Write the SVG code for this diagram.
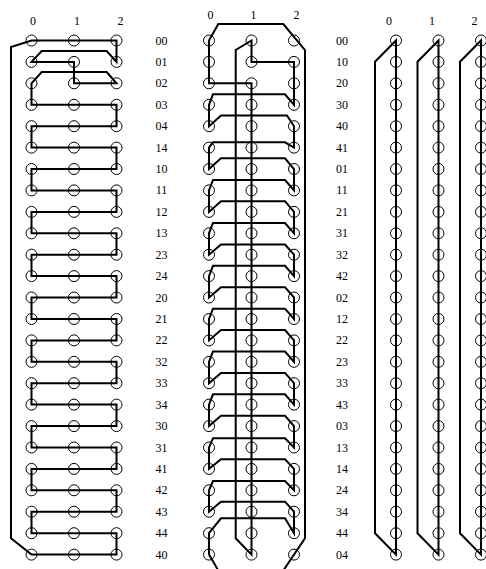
<svg xmlns="http://www.w3.org/2000/svg" width="486" height="569" viewBox="0 0 486 569">
<style>
.n circle{fill:none;stroke:#000;stroke-width:1}
.c path{fill:none;stroke:#000;stroke-width:2;stroke-linejoin:miter}
text{font-family:"Liberation Serif","Times New Roman",serif;font-size:12px;fill:#000;text-anchor:middle}
</style>
<rect width="486" height="569" fill="#fff"/>
<g id="connectors" class="c">
<path id="cycle-left" d="M31.5,40.5 H116.5 V61.9 L106.7,51 H41.7 L31.5,61.9 H74 V83.3 H116.5 L106.7,72 H41.7 L31.5,83.3 V104.8 H116.5 V126.2 H31.5 V147.6 H116.5 V169 H31.5 V190.4 H116.5 V211.9 H31.5 V233.3 H116.5 V254.7 H31.5 V276.1 H116.5 V297.5 H31.5 V319 H116.5 V340.4 H31.5 V361.8 H116.5 V383.2 H31.5 V404.6 H116.5 V426.1 H31.5 V447.5 H116.5 V468.9 H31.5 V490.3 H116.5 V511.7 H31.5 V533.2 H116.5 V554.6 H31.5 L11,538.3 V47 Z"/>
<path id="cycle-middle" d="M283,571 L305,538.3 V50 L283.3,24 H218.3 L209,40.5 V83.3 H251.5 V554.6 L235.7,538.3 V50 L251.5,40.5 V61.9 H294 V104.8
L285,94.3 H213 L209,104.8 V126.2
L221,115.5 H287 L294,126.2 V147.6
L285,142.3 H213 L209,147.6 V169
L221,158.3 H285 L294,169 V190.4
L285,180 H213 L209,190.4 V211.9
L221,201.2 H285 L294,211.9 V233.3
L285,223 H213 L209,233.3 V254.7
L221,244.5 H285 L294,254.7 V276.1
L285,265.8 H213 L209,276.1 V297.5
L221,287.2 H285 L294,297.5 V319
L285,308.7 H213 L209,319 V340.4
L221,330 H285 L294,340.4 V361.8
L285,351.5 H213 L209,361.8 V383.2
L221,372.9 H285 L294,383.2 V404.6
L285,394.3 H213 L209,404.6 V426.1
L221,415.8 H285 L294,426.1 V447.5
L285,438.3 H213 L209,447.5 V468.9
L221,459.3 H285 L294,468.9 V490.3
L285,481 H213 L209,490.3 V511.7
L221,501.7 H285 L294,511.7 V533.2
L285,518.3 H221 L209,533.2 V554.6 L218.6,571"/>
<path id="cycle-right-0" d="M396,40.5 V554.6 L375,533.3 V61.7 Z"/>
<path id="cycle-right-1" d="M438.5,40.5 V554.6 L417.5,533.3 V61.7 Z"/>
<path id="cycle-right-2" d="M481,40.5 V554.6 L460,533.3 V61.7 Z"/>
</g>
<g id="column-labels">
<text x="33" y="24.5">0</text><text x="77" y="24.5">1</text><text x="120.5" y="24.5">2</text>
<text x="210.5" y="19">0</text><text x="253.5" y="19">1</text><text x="296.5" y="19">2</text>
<text x="389" y="24.5">0</text><text x="432" y="24.5">1</text><text x="474.5" y="24.5">2</text>
</g>
<g id="row-labels-left">
<text x="161.5" y="44.5">00</text><text x="161.5" y="65.9">01</text><text x="161.5" y="87.3">02</text><text x="161.5" y="108.8">03</text><text x="161.5" y="130.2">04</text><text x="161.5" y="151.6">14</text><text x="161.5" y="173">10</text><text x="161.5" y="194.4">11</text><text x="161.5" y="215.9">12</text><text x="161.5" y="237.3">13</text><text x="161.5" y="258.7">23</text><text x="161.5" y="280.1">24</text><text x="161.5" y="301.5">20</text><text x="161.5" y="323">21</text><text x="161.5" y="344.4">22</text><text x="161.5" y="365.8">32</text><text x="161.5" y="387.2">33</text><text x="161.5" y="408.6">34</text><text x="161.5" y="430.1">30</text><text x="161.5" y="451.5">31</text><text x="161.5" y="472.9">41</text><text x="161.5" y="494.3">42</text><text x="161.5" y="515.7">43</text><text x="161.5" y="537.2">44</text><text x="161.5" y="558.6">40</text>
</g>
<g id="row-labels-right">
<text x="342" y="44.5">00</text><text x="342" y="65.9">10</text><text x="342" y="87.3">20</text><text x="342" y="108.8">30</text><text x="342" y="130.2">40</text><text x="342" y="151.6">41</text><text x="342" y="173">01</text><text x="342" y="194.4">11</text><text x="342" y="215.9">21</text><text x="342" y="237.3">31</text><text x="342" y="258.7">32</text><text x="342" y="280.1">42</text><text x="342" y="301.5">02</text><text x="342" y="323">12</text><text x="342" y="344.4">22</text><text x="342" y="365.8">23</text><text x="342" y="387.2">33</text><text x="342" y="408.6">43</text><text x="342" y="430.1">03</text><text x="342" y="451.5">13</text><text x="342" y="472.9">14</text><text x="342" y="494.3">24</text><text x="342" y="515.7">34</text><text x="342" y="537.2">44</text><text x="342" y="558.6">04</text>
</g>
<g id="nodes" class="n">
<g id="L-00"><circle cx="31.5" cy="40.5" r="5.5"/><circle cx="74" cy="40.5" r="5.5"/><circle cx="116.5" cy="40.5" r="5.5"/></g>
<g id="L-01"><circle cx="31.5" cy="61.9" r="5.5"/><circle cx="74" cy="61.9" r="5.5"/><circle cx="116.5" cy="61.9" r="5.5"/></g>
<g id="L-02"><circle cx="31.5" cy="83.3" r="5.5"/><circle cx="74" cy="83.3" r="5.5"/><circle cx="116.5" cy="83.3" r="5.5"/></g>
<g id="L-03"><circle cx="31.5" cy="104.8" r="5.5"/><circle cx="74" cy="104.8" r="5.5"/><circle cx="116.5" cy="104.8" r="5.5"/></g>
<g id="L-04"><circle cx="31.5" cy="126.2" r="5.5"/><circle cx="74" cy="126.2" r="5.5"/><circle cx="116.5" cy="126.2" r="5.5"/></g>
<g id="L-14"><circle cx="31.5" cy="147.6" r="5.5"/><circle cx="74" cy="147.6" r="5.5"/><circle cx="116.5" cy="147.6" r="5.5"/></g>
<g id="L-10"><circle cx="31.5" cy="169" r="5.5"/><circle cx="74" cy="169" r="5.5"/><circle cx="116.5" cy="169" r="5.5"/></g>
<g id="L-11"><circle cx="31.5" cy="190.4" r="5.5"/><circle cx="74" cy="190.4" r="5.5"/><circle cx="116.5" cy="190.4" r="5.5"/></g>
<g id="L-12"><circle cx="31.5" cy="211.9" r="5.5"/><circle cx="74" cy="211.9" r="5.5"/><circle cx="116.5" cy="211.9" r="5.5"/></g>
<g id="L-13"><circle cx="31.5" cy="233.3" r="5.5"/><circle cx="74" cy="233.3" r="5.5"/><circle cx="116.5" cy="233.3" r="5.5"/></g>
<g id="L-23"><circle cx="31.5" cy="254.7" r="5.5"/><circle cx="74" cy="254.7" r="5.5"/><circle cx="116.5" cy="254.7" r="5.5"/></g>
<g id="L-24"><circle cx="31.5" cy="276.1" r="5.5"/><circle cx="74" cy="276.1" r="5.5"/><circle cx="116.5" cy="276.1" r="5.5"/></g>
<g id="L-20"><circle cx="31.5" cy="297.5" r="5.5"/><circle cx="74" cy="297.5" r="5.5"/><circle cx="116.5" cy="297.5" r="5.5"/></g>
<g id="L-21"><circle cx="31.5" cy="319" r="5.5"/><circle cx="74" cy="319" r="5.5"/><circle cx="116.5" cy="319" r="5.5"/></g>
<g id="L-22"><circle cx="31.5" cy="340.4" r="5.5"/><circle cx="74" cy="340.4" r="5.5"/><circle cx="116.5" cy="340.4" r="5.5"/></g>
<g id="L-32"><circle cx="31.5" cy="361.8" r="5.5"/><circle cx="74" cy="361.8" r="5.5"/><circle cx="116.5" cy="361.8" r="5.5"/></g>
<g id="L-33"><circle cx="31.5" cy="383.2" r="5.5"/><circle cx="74" cy="383.2" r="5.5"/><circle cx="116.5" cy="383.2" r="5.5"/></g>
<g id="L-34"><circle cx="31.5" cy="404.6" r="5.5"/><circle cx="74" cy="404.6" r="5.5"/><circle cx="116.5" cy="404.6" r="5.5"/></g>
<g id="L-30"><circle cx="31.5" cy="426.1" r="5.5"/><circle cx="74" cy="426.1" r="5.5"/><circle cx="116.5" cy="426.1" r="5.5"/></g>
<g id="L-31"><circle cx="31.5" cy="447.5" r="5.5"/><circle cx="74" cy="447.5" r="5.5"/><circle cx="116.5" cy="447.5" r="5.5"/></g>
<g id="L-41"><circle cx="31.5" cy="468.9" r="5.5"/><circle cx="74" cy="468.9" r="5.5"/><circle cx="116.5" cy="468.9" r="5.5"/></g>
<g id="L-42"><circle cx="31.5" cy="490.3" r="5.5"/><circle cx="74" cy="490.3" r="5.5"/><circle cx="116.5" cy="490.3" r="5.5"/></g>
<g id="L-43"><circle cx="31.5" cy="511.7" r="5.5"/><circle cx="74" cy="511.7" r="5.5"/><circle cx="116.5" cy="511.7" r="5.5"/></g>
<g id="L-44"><circle cx="31.5" cy="533.2" r="5.5"/><circle cx="74" cy="533.2" r="5.5"/><circle cx="116.5" cy="533.2" r="5.5"/></g>
<g id="L-40"><circle cx="31.5" cy="554.6" r="5.5"/><circle cx="74" cy="554.6" r="5.5"/><circle cx="116.5" cy="554.6" r="5.5"/></g>

<g id="M-00"><circle cx="209" cy="40.5" r="5.5"/><circle cx="251.5" cy="40.5" r="5.5"/><circle cx="294" cy="40.5" r="5.5"/></g>
<g id="M-01"><circle cx="209" cy="61.9" r="5.5"/><circle cx="251.5" cy="61.9" r="5.5"/><circle cx="294" cy="61.9" r="5.5"/></g>
<g id="M-02"><circle cx="209" cy="83.3" r="5.5"/><circle cx="251.5" cy="83.3" r="5.5"/><circle cx="294" cy="83.3" r="5.5"/></g>
<g id="M-03"><circle cx="209" cy="104.8" r="5.5"/><circle cx="251.5" cy="104.8" r="5.5"/><circle cx="294" cy="104.8" r="5.5"/></g>
<g id="M-04"><circle cx="209" cy="126.2" r="5.5"/><circle cx="251.5" cy="126.2" r="5.5"/><circle cx="294" cy="126.2" r="5.5"/></g>
<g id="M-14"><circle cx="209" cy="147.6" r="5.5"/><circle cx="251.5" cy="147.6" r="5.5"/><circle cx="294" cy="147.6" r="5.5"/></g>
<g id="M-10"><circle cx="209" cy="169" r="5.5"/><circle cx="251.5" cy="169" r="5.5"/><circle cx="294" cy="169" r="5.5"/></g>
<g id="M-11"><circle cx="209" cy="190.4" r="5.5"/><circle cx="251.5" cy="190.4" r="5.5"/><circle cx="294" cy="190.4" r="5.5"/></g>
<g id="M-12"><circle cx="209" cy="211.9" r="5.5"/><circle cx="251.5" cy="211.9" r="5.5"/><circle cx="294" cy="211.9" r="5.5"/></g>
<g id="M-13"><circle cx="209" cy="233.3" r="5.5"/><circle cx="251.5" cy="233.3" r="5.5"/><circle cx="294" cy="233.3" r="5.5"/></g>
<g id="M-23"><circle cx="209" cy="254.7" r="5.5"/><circle cx="251.5" cy="254.7" r="5.5"/><circle cx="294" cy="254.7" r="5.5"/></g>
<g id="M-24"><circle cx="209" cy="276.1" r="5.5"/><circle cx="251.5" cy="276.1" r="5.5"/><circle cx="294" cy="276.1" r="5.5"/></g>
<g id="M-20"><circle cx="209" cy="297.5" r="5.5"/><circle cx="251.5" cy="297.5" r="5.5"/><circle cx="294" cy="297.5" r="5.5"/></g>
<g id="M-21"><circle cx="209" cy="319" r="5.5"/><circle cx="251.5" cy="319" r="5.5"/><circle cx="294" cy="319" r="5.5"/></g>
<g id="M-22"><circle cx="209" cy="340.4" r="5.5"/><circle cx="251.5" cy="340.4" r="5.5"/><circle cx="294" cy="340.4" r="5.5"/></g>
<g id="M-32"><circle cx="209" cy="361.8" r="5.5"/><circle cx="251.5" cy="361.8" r="5.5"/><circle cx="294" cy="361.8" r="5.5"/></g>
<g id="M-33"><circle cx="209" cy="383.2" r="5.5"/><circle cx="251.5" cy="383.2" r="5.5"/><circle cx="294" cy="383.2" r="5.5"/></g>
<g id="M-34"><circle cx="209" cy="404.6" r="5.5"/><circle cx="251.5" cy="404.6" r="5.5"/><circle cx="294" cy="404.6" r="5.5"/></g>
<g id="M-30"><circle cx="209" cy="426.1" r="5.5"/><circle cx="251.5" cy="426.1" r="5.5"/><circle cx="294" cy="426.1" r="5.5"/></g>
<g id="M-31"><circle cx="209" cy="447.5" r="5.5"/><circle cx="251.5" cy="447.5" r="5.5"/><circle cx="294" cy="447.5" r="5.5"/></g>
<g id="M-41"><circle cx="209" cy="468.9" r="5.5"/><circle cx="251.5" cy="468.9" r="5.5"/><circle cx="294" cy="468.9" r="5.5"/></g>
<g id="M-42"><circle cx="209" cy="490.3" r="5.5"/><circle cx="251.5" cy="490.3" r="5.5"/><circle cx="294" cy="490.3" r="5.5"/></g>
<g id="M-43"><circle cx="209" cy="511.7" r="5.5"/><circle cx="251.5" cy="511.7" r="5.5"/><circle cx="294" cy="511.7" r="5.5"/></g>
<g id="M-44"><circle cx="209" cy="533.2" r="5.5"/><circle cx="251.5" cy="533.2" r="5.5"/><circle cx="294" cy="533.2" r="5.5"/></g>
<g id="M-40"><circle cx="209" cy="554.6" r="5.5"/><circle cx="251.5" cy="554.6" r="5.5"/><circle cx="294" cy="554.6" r="5.5"/></g>

<g id="R-00"><circle cx="396" cy="40.5" r="5.5"/><circle cx="438.5" cy="40.5" r="5.5"/><circle cx="481" cy="40.5" r="5.5"/></g>
<g id="R-10"><circle cx="396" cy="61.9" r="5.5"/><circle cx="438.5" cy="61.9" r="5.5"/><circle cx="481" cy="61.9" r="5.5"/></g>
<g id="R-20"><circle cx="396" cy="83.3" r="5.5"/><circle cx="438.5" cy="83.3" r="5.5"/><circle cx="481" cy="83.3" r="5.5"/></g>
<g id="R-30"><circle cx="396" cy="104.8" r="5.5"/><circle cx="438.5" cy="104.8" r="5.5"/><circle cx="481" cy="104.8" r="5.5"/></g>
<g id="R-40"><circle cx="396" cy="126.2" r="5.5"/><circle cx="438.5" cy="126.2" r="5.5"/><circle cx="481" cy="126.2" r="5.5"/></g>
<g id="R-41"><circle cx="396" cy="147.6" r="5.5"/><circle cx="438.5" cy="147.6" r="5.5"/><circle cx="481" cy="147.6" r="5.5"/></g>
<g id="R-01"><circle cx="396" cy="169" r="5.5"/><circle cx="438.5" cy="169" r="5.5"/><circle cx="481" cy="169" r="5.5"/></g>
<g id="R-11"><circle cx="396" cy="190.4" r="5.5"/><circle cx="438.5" cy="190.4" r="5.5"/><circle cx="481" cy="190.4" r="5.5"/></g>
<g id="R-21"><circle cx="396" cy="211.9" r="5.5"/><circle cx="438.5" cy="211.9" r="5.5"/><circle cx="481" cy="211.9" r="5.5"/></g>
<g id="R-31"><circle cx="396" cy="233.3" r="5.5"/><circle cx="438.5" cy="233.3" r="5.5"/><circle cx="481" cy="233.3" r="5.5"/></g>
<g id="R-32"><circle cx="396" cy="254.7" r="5.5"/><circle cx="438.5" cy="254.7" r="5.5"/><circle cx="481" cy="254.7" r="5.5"/></g>
<g id="R-42"><circle cx="396" cy="276.1" r="5.5"/><circle cx="438.5" cy="276.1" r="5.5"/><circle cx="481" cy="276.1" r="5.5"/></g>
<g id="R-02"><circle cx="396" cy="297.5" r="5.5"/><circle cx="438.5" cy="297.5" r="5.5"/><circle cx="481" cy="297.5" r="5.5"/></g>
<g id="R-12"><circle cx="396" cy="319" r="5.5"/><circle cx="438.5" cy="319" r="5.5"/><circle cx="481" cy="319" r="5.5"/></g>
<g id="R-22"><circle cx="396" cy="340.4" r="5.5"/><circle cx="438.5" cy="340.4" r="5.5"/><circle cx="481" cy="340.4" r="5.5"/></g>
<g id="R-23"><circle cx="396" cy="361.8" r="5.5"/><circle cx="438.5" cy="361.8" r="5.5"/><circle cx="481" cy="361.8" r="5.5"/></g>
<g id="R-33"><circle cx="396" cy="383.2" r="5.5"/><circle cx="438.5" cy="383.2" r="5.5"/><circle cx="481" cy="383.2" r="5.5"/></g>
<g id="R-43"><circle cx="396" cy="404.6" r="5.5"/><circle cx="438.5" cy="404.6" r="5.5"/><circle cx="481" cy="404.6" r="5.5"/></g>
<g id="R-03"><circle cx="396" cy="426.1" r="5.5"/><circle cx="438.5" cy="426.1" r="5.5"/><circle cx="481" cy="426.1" r="5.5"/></g>
<g id="R-13"><circle cx="396" cy="447.5" r="5.5"/><circle cx="438.5" cy="447.5" r="5.5"/><circle cx="481" cy="447.5" r="5.5"/></g>
<g id="R-14"><circle cx="396" cy="468.9" r="5.5"/><circle cx="438.5" cy="468.9" r="5.5"/><circle cx="481" cy="468.9" r="5.5"/></g>
<g id="R-24"><circle cx="396" cy="490.3" r="5.5"/><circle cx="438.5" cy="490.3" r="5.5"/><circle cx="481" cy="490.3" r="5.5"/></g>
<g id="R-34"><circle cx="396" cy="511.7" r="5.5"/><circle cx="438.5" cy="511.7" r="5.5"/><circle cx="481" cy="511.7" r="5.5"/></g>
<g id="R-44"><circle cx="396" cy="533.2" r="5.5"/><circle cx="438.5" cy="533.2" r="5.5"/><circle cx="481" cy="533.2" r="5.5"/></g>
<g id="R-04"><circle cx="396" cy="554.6" r="5.5"/><circle cx="438.5" cy="554.6" r="5.5"/><circle cx="481" cy="554.6" r="5.5"/></g>
</g>
</svg>
